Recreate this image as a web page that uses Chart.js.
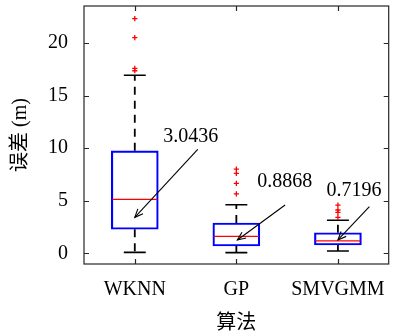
<!DOCTYPE html>
<html><head><meta charset="utf-8">
<script src="https://cdn.jsdelivr.net/npm/chart.js@4/dist/chart.umd.min.js"></script>
<style>html,body{margin:0;padding:0;background:#fff;}#wrap{width:394px;height:336px;}</style>
</head><body><div id="wrap"><canvas id="c" width="394" height="336"></canvas></div>
<script>
const categories = ['WKNN', 'GP', 'SMVGMM'];
const q1 = [2.3, 0.71, 0.8];
const q3 = [9.75, 2.89, 1.97];
const medians = [5.14, 1.63, 1.19];
const whiskerLow = [0.1, 0.08, 0.24];
const whiskerHigh = [16.93, 4.63, 3.15];
const outliers = [[22.3, 20.5, 17.57, 17.35], [8.0, 7.6, 6.65, 5.65], [4.6, 4.13, 3.9, 3.43]];
const yTicks = [0, 5, 10, 15, 20];
const annotationLabels = ['3.0436', '0.8868', '0.7196'];
const arrowTail = [[1.62, 9.89], [2.48, 4.6], [3.31, 4.44]];
const arrowHead = [[1.0, 3.43], [2.01, 1.28], [3.0, 1.28]];
const labelAnchor = [[1.28, 11.08], [2.205, 6.8], [2.887, 5.96]];

const SERIF = "'Liberation Serif', 'Noto Sans CJK SC', serif";
const AXIS = '#262626';

function zeroPad(s) { s.paddingTop = 0; s.paddingBottom = 0; s.paddingLeft = 0; s.paddingRight = 0; }

const boxPlugin = {
  id: 'boxparts',
  beforeDatasetsDraw(chart) {
    const {ctx, scales: {x, y}} = chart;
    ctx.save();
    ctx.strokeStyle = '#000';
    categories.forEach((c, i) => {
      const px = x.getPixelForValue(i + 1);
      ctx.lineWidth = 1.8;
      ctx.setLineDash([8, 6]);
      ctx.beginPath();
      ctx.moveTo(px, y.getPixelForValue(q3[i]));
      ctx.lineTo(px, y.getPixelForValue(whiskerHigh[i]));
      ctx.moveTo(px, y.getPixelForValue(q1[i]));
      ctx.lineTo(px, y.getPixelForValue(whiskerLow[i]));
      ctx.stroke();
      ctx.setLineDash([]);
      ctx.lineWidth = 1.6;
      const cw = (x.getPixelForValue(1.108) - x.getPixelForValue(1));
      ctx.beginPath();
      ctx.moveTo(px - cw, y.getPixelForValue(whiskerHigh[i]));
      ctx.lineTo(px + cw, y.getPixelForValue(whiskerHigh[i]));
      ctx.moveTo(px - cw, y.getPixelForValue(whiskerLow[i]));
      ctx.lineTo(px + cw, y.getPixelForValue(whiskerLow[i]));
      ctx.stroke();
    });
    ctx.restore();
  },
  afterDatasetsDraw(chart) {
    const {ctx, chartArea: a, scales: {x, y}} = chart;
    const meta = chart.getDatasetMeta(0);
    ctx.save();
    ctx.strokeStyle = '#ff0000';
    ctx.lineWidth = 1.3;
    meta.data.forEach((bar, i) => {
      const half = bar.width / 2;
      const py = y.getPixelForValue(medians[i]);
      ctx.beginPath();
      ctx.moveTo(bar.x - half + 1, py);
      ctx.lineTo(bar.x + half - 1, py);
      ctx.stroke();
    });
    ctx.strokeStyle = AXIS;
    ctx.lineWidth = 1.2;
    ctx.strokeRect(a.left, a.top, a.right - a.left, a.bottom - a.top);
    ctx.beginPath();
    yTicks.forEach(v => {
      const py = Math.round(y.getPixelForValue(v)) + 0.5;
      ctx.moveTo(a.left, py); ctx.lineTo(a.left + 5, py);
      ctx.moveTo(a.right, py); ctx.lineTo(a.right - 5, py);
    });
    categories.forEach((c, i) => {
      const px = Math.round(x.getPixelForValue(i + 1)) + 0.5;
      ctx.moveTo(px, a.bottom); ctx.lineTo(px, a.bottom - 5);
      ctx.moveTo(px, a.top); ctx.lineTo(px, a.top + 5);
    });
    ctx.stroke();
    ctx.strokeStyle = '#000';
    ctx.fillStyle = '#000';
    ctx.lineWidth = 1.1;
    ctx.font = '20px ' + SERIF;
    ctx.textBaseline = 'middle';
    ctx.textAlign = 'left';
    annotationLabels.forEach((t, i) => {
      const x0 = x.getPixelForValue(arrowTail[i][0]), y0 = y.getPixelForValue(arrowTail[i][1]);
      const x1 = x.getPixelForValue(arrowHead[i][0]), y1 = y.getPixelForValue(arrowHead[i][1]);
      const ang = Math.atan2(y1 - y0, x1 - x0);
      ctx.beginPath();
      ctx.moveTo(x0, y0); ctx.lineTo(x1, y1);
      ctx.stroke();
      const L = 9, w = 0.4;
      ctx.beginPath();
      ctx.moveTo(x1 - L * Math.cos(ang - w), y1 - L * Math.sin(ang - w));
      ctx.lineTo(x1, y1);
      ctx.lineTo(x1 - L * Math.cos(ang + w), y1 - L * Math.sin(ang + w));
      ctx.stroke();
      ctx.fillText(t, x.getPixelForValue(labelAnchor[i][0]), y.getPixelForValue(labelAnchor[i][1]));
    });
    ctx.restore();
  }
};

new Chart(document.getElementById('c'), {
  type: 'bar',
  data: {
    datasets: [
      {
        type: 'bar',
        data: categories.map((c, i) => ({x: i + 1, y: [q1[i], q3[i]]})),
        backgroundColor: 'rgba(0,0,0,0)',
        borderColor: '#0000ff',
        borderWidth: 1.5,
        borderSkipped: false,
        barThickness: 47
      },
      {
        type: 'scatter',
        data: outliers.flatMap((arr, i) => arr.map(v => ({x: i + 1, y: v}))),
        pointStyle: 'cross',
        radius: 2.6,
        borderColor: '#ff0000',
        borderWidth: 1.3,
        backgroundColor: '#ff0000'
      }
    ]
  },
  options: {
    responsive: false,
    animation: false,
    devicePixelRatio: 1,
    layout: {padding: {left: 0, right: 1, top: 6, bottom: 0}},
    plugins: {legend: {display: false}, tooltip: {enabled: false}},
    scales: {
      x: {
        type: 'linear', min: 0.5, max: 3.5, offset: false,
        grid: {display: false, drawTicks: false, offset: false},
        border: {display: false},
        afterBuildTicks(s) { s.ticks = categories.map((c, i) => ({value: i + 1})); },
        afterFit(s) { s.height = 72; zeroPad(s); },
        ticks: {
          callback: (v) => categories[v - 1] || '',
          color: '#000', font: {family: SERIF, size: 20}, padding: 14, maxRotation: 0, autoSkip: false
        },
        title: {display: true, text: '算法', color: '#000', font: {family: SERIF, size: 20}, padding: {top: 0, bottom: 0}}
      },
      y: {
        type: 'linear', min: -1, max: 23.5,
        grid: {display: false, drawTicks: false},
        border: {display: false},
        afterBuildTicks(s) { s.ticks = yTicks.map(v => ({value: v})); },
        afterFit(s) { s.width = 84; zeroPad(s); },
        ticks: {color: '#000', font: {family: SERIF, size: 20}, padding: 16},
        title: {display: true, text: '误差 (m)', color: '#000', font: {family: SERIF, size: 20}, padding: {top: 9, bottom: 0}}
      }
    }
  },
  plugins: [boxPlugin]
});
</script></body></html>
